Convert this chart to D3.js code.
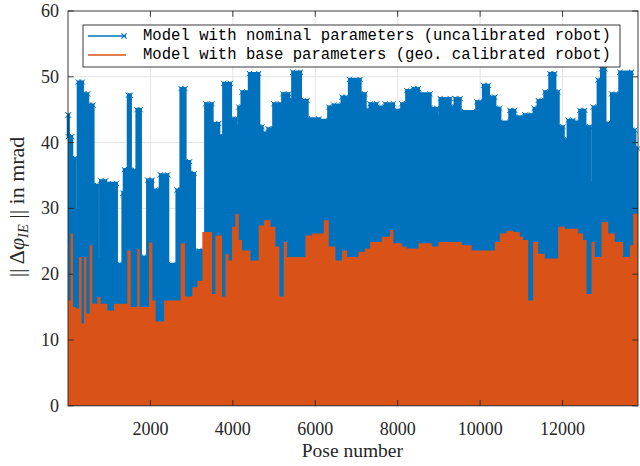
<!DOCTYPE html>
<html>
<head>
<meta charset="utf-8">
<script src="https://cdn.jsdelivr.net/npm/d3@7"></script>
<style>
  html, body { margin: 0; padding: 0; background: #fff; }
  svg { display: block; }
  .tick-label { font-family: "Liberation Serif", serif; font-size: 18px; fill: #262626; }
  .leg-text { font-family: "Liberation Mono", monospace; font-size: 15.6px; fill: #000; }
</style>
</head>
<body>
<svg id="grafico" width="640" height="466"></svg>
<script>
// envolvente superior (inicio de tramo en número de pose, valor en mrad)
const poseNominal = [1, 9, 90, 170, 251, 349, 389, 478, 510, 607, 713, 793, 915, 980, 1174, 1335, 1368, 1465, 1513, 1627,
  1675, 1756, 1934, 2047, 2112, 2242, 2420, 2646, 2743, 2840, 2953, 3067, 3180, 3342, 3496, 3561, 3658, 3779, 3941, 3997,
  4062, 4143, 4224, 4345, 4402, 4629, 4709, 4855, 4993, 5154, 5180, 5211, 5357, 5454, 5640, 5802, 6085, 6327, 6449, 6651, 6748, 6775,
  6829, 7087, 7209, 7330, 7492, 7694, 7896, 8099, 8220, 8382, 8503, 8786, 8948, 9029, 9272, 9393, 9514, 9919, 10081, 10202,
  10356, 10477, 10720, 10841, 11084, 11246, 11311, 11408, 11570, 11691, 11812, 11893, 12014, 12136, 12257, 12419, 12540, 12662, 12743, 12864,
  12945, 13026, 13188, 13390, 13673, 13754];
const errNominal = [44.2, 40.9, 37.6, 29.5, 49.2, 36.8, 47.4, 36.3, 45.7, 33.5, 22.2, 34.2, 22.1, 33.8, 21.5, 32.3, 35.9, 47.2, 35.8, 32.2,
  45.0, 22.6, 34.3, 28.2, 32.8, 35.1, 21.5, 32.8, 48.2, 37.1, 35.3, 23.4, 23.6, 45.9, 22.1, 42.9, 40.9, 49.0, 37.8, 43.6,
  42.4, 45.4, 47.7, 45.4, 50.5, 42.4, 41.4, 42.1, 45.9, 35.8, 45.5, 47.4, 46.4, 50.7, 46.4, 43.6, 43.4, 45.4, 45.7, 46.9, 33.3, 46.5,
  49.6, 47.4, 44.9, 45.9, 45.4, 45.9, 44.9, 45.9, 47.9, 48.2, 47.4, 45.2, 43.9, 46.7, 45.4, 46.7, 44.7, 46.2, 48.7, 46.9,
  45.2, 43.1, 44.9, 43.9, 44.2, 33.3, 45.2, 46.4, 47.7, 50.5, 47.7, 42.4, 40.4, 43.4, 43.1, 44.9, 42.4, 33.8, 45.4, 49.5,
  51.2, 42.9, 47.4, 50.7, 41.9, 39.1];

const poseBase = [1, 9, 65, 122, 187, 268, 332, 389, 446, 526, 591, 713, 793, 955, 1117, 1441, 1522, 1683, 1740, 1967,
  2047, 2128, 2331, 2735, 2840, 3018, 3140, 3261, 3496, 3577, 3739, 3820, 3900, 3981, 4062, 4143, 4224, 4426, 4629, 4750,
  4912, 5033, 5130, 5235, 5316, 5761, 5923, 6206, 6327, 6489, 6651, 6772, 7047, 7209, 7330, 7613, 7815, 7896, 8099, 8220,
  8503, 8827, 8988, 9555, 9797, 10356, 10477, 10639, 10801, 10963, 11044, 11165, 11286, 11408, 11570, 11893, 12055, 12379, 12500, 12581,
  12702, 12783, 12945, 13107, 13268, 13471, 13633, 13714];
const errBase = [24.6, 16.0, 26.2, 15.0, 14.8, 22.6, 12.5, 22.6, 14.0, 24.4, 15.5, 16.5, 15.5, 14.5, 15.5, 23.6, 15.0, 23.8, 15.0, 24.8,
  16.0, 12.8, 16.0, 24.7, 16.6, 18.0, 19.0, 26.4, 17.0, 25.9, 16.6, 23.1, 22.1, 27.2, 29.2, 25.2, 23.6, 22.1, 27.4, 28.2,
  27.2, 24.2, 16.6, 24.9, 22.6, 25.9, 26.2, 28.2, 24.2, 22.1, 23.6, 22.6, 23.4, 23.9, 24.9, 25.7, 26.7, 24.7, 24.2, 23.9,
  24.7, 24.2, 24.9, 24.4, 23.6, 24.9, 26.2, 26.6, 26.4, 25.7, 25.2, 16.0, 24.9, 23.1, 22.4, 27.2, 26.9, 26.2, 25.2, 17.0,
  24.9, 22.6, 27.9, 26.2, 24.9, 22.6, 24.4, 29.2];

const poseMax = 13830;
const xTicks = [2000, 4000, 6000, 8000, 10000, 12000];
const yTicks = [0, 10, 20, 30, 40, 50, 60];
const leyenda = ["Model with nominal parameters (uncalibrated robot)", "Model with base parameters (geo. calibrated robot)"];

const azul = "#0072BD", naranja = "#D95319", ejes = "#262626";

const svg = d3.select('#grafico');
const izq = 68, der = 638, arriba = 11, abajo = 405.8;

const x = d3.scaleLinear().domain([1, poseMax]).range([izq, der]);
const y = d3.scaleLinear().domain([0, 60]).range([abajo, arriba]);

// rejilla
svg.append('g').selectAll('line.vx')
  .data(xTicks).join('line')
  .attr('x1', d => x(d)).attr('x2', d => x(d))
  .attr('y1', arriba).attr('y2', abajo)
  .attr('stroke', '#e3e3e3').attr('stroke-width', 1);
svg.append('g').selectAll('line.hy')
  .data(yTicks.slice(1, -1)).join('line')
  .attr('x1', izq).attr('x2', der)
  .attr('y1', d => y(d)).attr('y2', d => y(d))
  .attr('stroke', '#e3e3e3').attr('stroke-width', 1);

function escalones(poses, vals) {
  const pts = poses.map((p, i) => [p, vals[i]]);
  pts.push([poseMax, vals[vals.length - 1]]);
  return pts;
}

const area = d3.area()
  .x(d => x(d[0]))
  .y0(y(0))
  .y1(d => y(d[1]))
  .curve(d3.curveStepAfter);

const linea = d3.line()
  .x(d => x(d[0]))
  .y(d => y(d[1]))
  .curve(d3.curveStepAfter);

const ptsNom = escalones(poseNominal, errNominal);
const ptsBase = escalones(poseBase, errBase);

svg.append('path').attr('d', area(ptsNom)).attr('fill', azul);
// borde grueso: imita el flequillo de marcadores
svg.append('path').attr('d', linea(ptsNom)).attr('fill', 'none')
  .attr('stroke', azul).attr('stroke-width', 3.2).attr('stroke-linejoin', 'miter');

// marcadores "x" en las esquinas de la envolvente
const marcas = [];
poseNominal.forEach((p, i) => {
  const fin = i < poseNominal.length - 1 ? poseNominal[i + 1] : poseMax;
  marcas.push([p, errNominal[i]], [fin, errNominal[i]]);
});
svg.append('g').selectAll('path.marca')
  .data(marcas).join('path')
  .attr('d', d => {
    const cx = x(d[0]), cy = y(d[1]), r = 2.6;
    return `M${cx - r},${cy - r}L${cx + r},${cy + r}M${cx - r},${cy + r}L${cx + r},${cy - r}`;
  })
  .attr('stroke', azul).attr('stroke-width', 1);

svg.append('path').attr('d', area(ptsBase)).attr('fill', naranja);

// caja de ejes
svg.append('rect')
  .attr('x', izq).attr('y', arriba)
  .attr('width', der - izq).attr('height', abajo - arriba)
  .attr('fill', 'none').attr('stroke', ejes).attr('stroke-width', 0.9);

const tl = 5.7;
const g = svg.append('g').attr('stroke', ejes).attr('stroke-width', 0.9);
xTicks.forEach(t => {
  g.append('line').attr('x1', x(t)).attr('x2', x(t)).attr('y1', abajo).attr('y2', abajo - tl);
  g.append('line').attr('x1', x(t)).attr('x2', x(t)).attr('y1', arriba).attr('y2', arriba + tl);
});
yTicks.forEach(t => {
  g.append('line').attr('x1', izq).attr('x2', izq + tl).attr('y1', y(t)).attr('y2', y(t));
  g.append('line').attr('x1', der).attr('x2', der - tl).attr('y1', y(t)).attr('y2', y(t));
});

svg.append('g').selectAll('text.xt')
  .data(xTicks).join('text')
  .attr('class', 'tick-label')
  .attr('x', d => x(d)).attr('y', 435)
  .attr('text-anchor', 'middle')
  .text(d => d);

svg.append('g').selectAll('text.yt')
  .data(yTicks).join('text')
  .attr('class', 'tick-label')
  .attr('x', 59).attr('y', d => y(d) + 6)
  .attr('text-anchor', 'end')
  .text(d => d);

svg.append('text')
  .attr('class', 'tick-label')
  .attr('x', x(6900)).attr('y', 457)
  .attr('text-anchor', 'middle')
  .style('font-size', '19.5px')
  .text('Pose number');

const yl = svg.append('text')
  .attr('class', 'tick-label')
  .attr('transform', 'translate(24,207) rotate(-90)')
  .attr('text-anchor', 'middle')
  .style('font-size', '22px');
yl.append('tspan').text('|| Δ');
yl.append('tspan').style('font-style', 'italic').text('φ');
yl.append('tspan').style('font-style', 'italic').style('font-size', '14.5px').attr('dy', 4).text('IE');
yl.append('tspan').attr('dy', -4).text(' || in mrad');

// leyenda
const leg = svg.append('g');
leg.append('rect')
  .attr('x', 83).attr('y', 25).attr('width', 537).attr('height', 42)
  .attr('fill', '#fff').attr('stroke', ejes).attr('stroke-width', 0.9);
leg.append('line').attr('x1', 88).attr('x2', 126).attr('y1', 36).attr('y2', 36)
  .attr('stroke', azul).attr('stroke-width', 1.5);
leg.append('path').attr('d', 'M121.4,33.4L126.6,38.6M121.4,38.6L126.6,33.4')
  .attr('stroke', azul).attr('stroke-width', 1.2);
leg.append('line').attr('x1', 88).attr('x2', 126).attr('y1', 55).attr('y2', 55)
  .attr('stroke', naranja).attr('stroke-width', 1.5);
leg.selectAll('text.leg')
  .data(leyenda).join('text')
  .attr('class', 'leg-text')
  .attr('x', 143).attr('y', (d, i) => 36 + i * 19)
  .attr('dominant-baseline', 'central')
  .text(d => d);
</script>
</body>
</html>
